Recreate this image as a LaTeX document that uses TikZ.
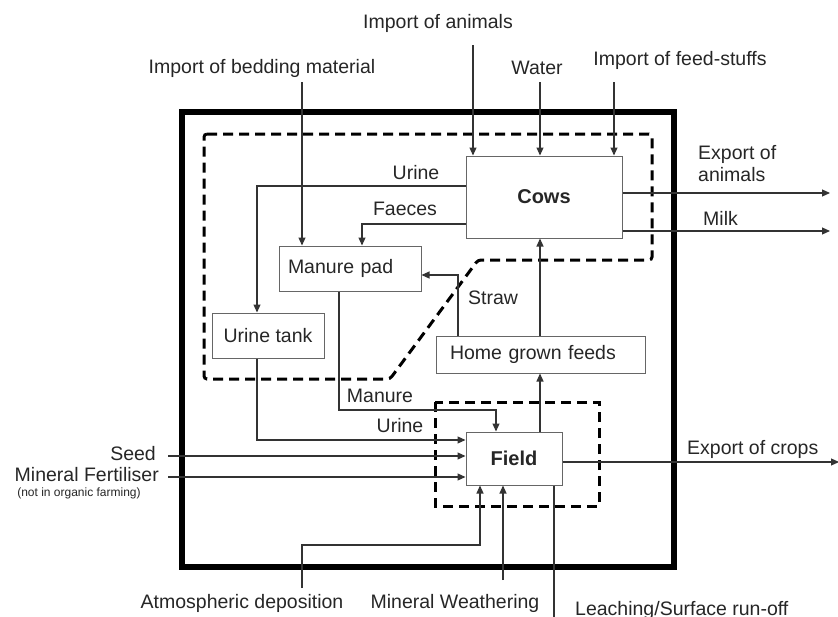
\documentclass[tikz,border=0pt]{standalone}
\usepackage{fontspec}
\setmainfont{Liberation Sans}
\usetikzlibrary{arrows.meta}
\begin{document}
\begin{tikzpicture}[x=1pt,y=-1pt,
  every node/.style={font=\fontsize{19.5}{22}\selectfont, text=black!85, inner sep=0pt},
  boxnode/.style={draw=black!60, line width=1pt, rectangle},
  boldtext/.style={font=\bfseries\fontsize{20}{22}\selectfont},
  flow/.style={draw=black!80, line width=1.1pt, -{Triangle[length=8pt,width=7pt]}},
  plain/.style={draw=black!80, line width=1.1pt},
  region/.style={draw=black, line width=3pt, dash pattern=on 10pt off 6pt},
  sysbound/.style={draw=black, line width=6pt},
  smalltext/.style={font=\fontsize{12}{14}\selectfont}
]
\useasboundingbox (0,0) rectangle (838,616);

% dashed regions
\draw[region, rounded corners=3pt] (204,134) -- (652,134) -- (652,260) -- (478,260) -- (390,379) -- (204,379) -- cycle;
\draw[region] (435,402) rectangle (599,506);

% system boundary
\draw[sysbound] (182,112) rectangle (674,567);

% boxes
\node[boxnode, boldtext, minimum width=156pt, minimum height=82pt] (cows) at (544,197) {Cows};
\node[boxnode, text width=124pt, align=left, inner xsep=9pt, minimum height=45pt] (pad) at (350,268.5) {Manure pad};
\node[boxnode, minimum width=112pt, minimum height=45pt] (tank) at (268,335.5) {Urine tank};
\node[boxnode, text width=181pt, align=left, inner xsep=14pt, minimum height=37pt] (hgf) at (540.5,354.5) {Home grown feeds};
\node[boxnode, boldtext, minimum width=96pt, minimum height=53pt] (field) at (514,458.5) {Field};

% coordinates
\coordinate (ia) at (473,45);
\coordinate (wa) at (540,82);
\coordinate (fs) at (614,82);
\coordinate (bm) at (302,82);
\coordinate (u1) at (257,186);
\coordinate (f1) at (362,224);
\coordinate (ea) at (830,193);
\coordinate (mk) at (830,231);
\coordinate (s1) at (458,275);
\coordinate (c1) at (540,0);
\coordinate (t1) at (257,440);
\coordinate (m1) at (339,410);
\coordinate (m2) at (496,410);
\coordinate (sd) at (168,456);
\coordinate (fz) at (168,477);
\coordinate (cr) at (839,462);
\coordinate (a1) at (302,588);
\coordinate (a2) at (302,545);
\coordinate (a3) at (480,545);
\coordinate (w1) at (503,580);
\coordinate (l1) at (554,625);

% connectors
\draw[flow] (ia) -- (ia |- cows.north);
\draw[flow] (wa) -- (wa |- cows.north);
\draw[flow] (fs) -- (fs |- cows.north);
\draw[flow] (bm) -- (bm |- pad.north);
\draw[flow] (cows.west |- u1) -- (u1) -- (u1 |- tank.north);
\draw[flow] (cows.west |- f1) -- (f1) -- (f1 |- pad.north);
\draw[flow] (cows.east |- ea) -- (ea);
\draw[flow] (cows.east |- mk) -- (mk);
\draw[flow] (s1 |- hgf.north) -- (s1) -- (pad.east |- s1);
\draw[flow] (c1 |- hgf.north) -- (c1 |- cows.south);
\draw[flow] (c1 |- field.north) -- (c1 |- hgf.south);
\draw[flow] (t1 |- tank.south) -- (t1) -- (field.west |- t1);
\draw[flow] (m1 |- pad.south) -- (m1) -- (m2) -- (m2 |- field.north);
\draw[flow] (sd) -- (field.west |- sd);
\draw[flow] (fz) -- (field.west |- fz);
\draw[flow] (field.east |- cr) -- (cr);
\draw[flow] (a1) -- (a2) -- (a3) -- (a3 |- field.south);
\draw[flow] (w1) -- (w1 |- field.south);
\draw[plain] (l1 |- field.south) -- (l1);

% labels
\node (lia) at (438,23) {Import of animals};
\node (lbm) at (262,68) {Import of bedding material};
\node (lwa) at (537,68) {Water};
\node (lfs) at (680,60) {Import of feed-stuffs};
\node[align=left, anchor=north west] (lea) at (698,145) {Export of\\animals};
\node[anchor=west] (lmk) at (703,218) {Milk};
\node (lu1) at (416,173) {Urine};
\node (lf1) at (405,209) {Faeces};
\node (lst) at (493,298) {Straw};
\node (lmn) at (380,396) {Manure};
\node (lu2) at (400,426) {Urine};
\node[anchor=east] (lsd) at (156,454) {Seed};
\node[anchor=east] (lfz) at (159,475) {Mineral Fertiliser};
\node[smalltext] (lno) at (79,493) {(not in organic farming)};
\node[anchor=west] (lcr) at (687,449) {Export of crops};
\node (lat) at (242,603) {Atmospheric deposition};
\node (lmw) at (455,603) {Mineral Weathering};
\node[anchor=west] (lle) at (575,610) {Leaching/Surface run-off};
\end{tikzpicture}
\end{document}
